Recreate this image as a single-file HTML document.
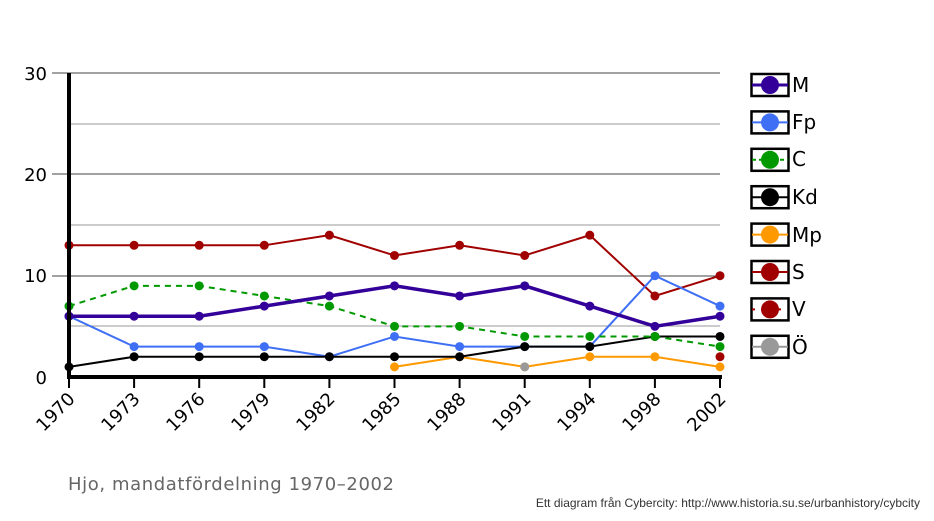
<!DOCTYPE html>
<html><head><meta charset="utf-8"><style>
html,body{margin:0;padding:0;background:#fff;width:934px;height:521px;overflow:hidden}
svg{display:block}
text{font-family:"DejaVu Sans","Liberation Sans",sans-serif}
</style></head><body>
<svg id="s" width="934" height="521" viewBox="0 0 934 521" xmlns="http://www.w3.org/2000/svg">
<g stroke="#999" stroke-width="1">
<line x1="69" y1="326" x2="720" y2="326"/><line x1="69" y1="225" x2="720" y2="225"/><line x1="69" y1="124" x2="720" y2="124"/>
</g>
<g stroke="#444" stroke-width="1">
<line x1="52" y1="276" x2="720" y2="276"/><line x1="52" y1="174" x2="720" y2="174"/><line x1="52" y1="73" x2="720" y2="73"/>
</g>
<g font-size="18" fill="#000" text-anchor="end">
<text x="47" y="384">0</text><text x="47" y="282">10</text><text x="47" y="181">20</text><text x="47" y="80">30</text>
</g>
<g id="ticks" stroke="#000" stroke-width="2"></g>
<g id="series"></g>
<line x1="69" y1="73" x2="69" y2="379" stroke="#000" stroke-width="4"/>
<line x1="67" y1="377" x2="722" y2="377" stroke="#000" stroke-width="4"/>
<g font-size="18" fill="#000" text-anchor="end">
<text transform="translate(76,400) rotate(-45)">1970</text>
<text transform="translate(141,400) rotate(-45)">1973</text>
<text transform="translate(206,400) rotate(-45)">1976</text>
<text transform="translate(271,400) rotate(-45)">1979</text>
<text transform="translate(336,400) rotate(-45)">1982</text>
<text transform="translate(402,400) rotate(-45)">1985</text>
<text transform="translate(467,400) rotate(-45)">1988</text>
<text transform="translate(532,400) rotate(-45)">1991</text>
<text transform="translate(597,400) rotate(-45)">1994</text>
<text transform="translate(662,400) rotate(-45)">1998</text>
<text transform="translate(727,400) rotate(-45)">2002</text>
</g>
<g id="legend"></g>
<g font-size="20" fill="#000">
<text x="792" y="92">M</text><text x="792" y="129">Fp</text><text x="792" y="166">C</text><text x="792" y="204">Kd</text>
<text x="792" y="242">Mp</text><text x="792" y="279">S</text><text x="792" y="316">V</text><text x="792" y="354">Ö</text>
</g>
<text x="68" y="490" font-size="18" fill="#666" letter-spacing="0.6">Hjo, mandatfördelning 1970–2002</text>
<text x="920" y="507" font-size="12" fill="#333" text-anchor="end" style="font-family:'Liberation Sans',sans-serif">Ett diagram från Cybercity: http://www.historia.su.se/urbanhistory/cybcity</text>
</svg>
<script>
var NS="http://www.w3.org/2000/svg";
function el(p,n,a){var e=document.createElementNS(NS,n);for(var k in a)e.setAttribute(k,a[k]);p.appendChild(e);return e;}
function X(i){return 69+65.1*i}function Y(v){return 377-10.13*v}
var t=document.getElementById('ticks');
for(var i=0;i<11;i++)el(t,'line',{x1:X(i),y1:377,x2:X(i),y2:388});
var S=[
['#a00000',2,null,[13,13,13,13,14,12,13,12,14,8,10]],
['#3f6ff5',2,null,[6,3,3,3,2,4,3,3,3,10,7]],
['#ff9900',2,null,[null,null,null,null,null,1,2,1,2,2,1]],
['#000',2,null,[1,2,2,2,2,2,2,3,3,4,4]],
['#009900',2,'6,5',[7,9,9,8,7,5,5,4,4,4,3]],
['#330099',3.5,null,[6,6,6,7,8,9,8,9,7,5,6]],
['#a00000',2,null,[null,null,null,null,null,null,null,null,null,null,2]],
['#999',2,null,[null,null,null,null,null,null,null,1,null,null,null]]
];
var g=document.getElementById('series');
S.forEach(function(s){var pts=[];s[3].forEach(function(v,i){if(v!=null)pts.push(X(i)+','+Y(v));});
 var a={points:pts.join(' '),fill:'none',stroke:s[0],'stroke-width':s[1]};if(s[2])a['stroke-dasharray']=s[2];
 if(pts.length>1)el(g,'polyline',a);
 s[3].forEach(function(v,i){if(v!=null)el(g,'circle',{cx:X(i),cy:Y(v),r:4.5,fill:s[0]});});});
var L=[['#330099',3],['#3f6ff5',2],['#009900',2,'4,3'],['#000',2],['#ff9900',2],['#a00000',2],['#a00000',2,'3,10'],['#999',2]];
var lg=document.getElementById('legend');
L.forEach(function(l,k){var cy=85+37.4*k;
 el(lg,'rect',{x:751.5,y:cy-11,width:37,height:22,fill:'#fff',stroke:'#000','stroke-width':2.5});
 var a={x1:752,y1:cy,x2:788,y2:cy,stroke:l[0],'stroke-width':l[1]};if(l[2])a['stroke-dasharray']=l[2];el(lg,'line',a);
 el(lg,'circle',{cx:770,cy:cy,r:9,fill:l[0]});});
</script>
</body></html>
